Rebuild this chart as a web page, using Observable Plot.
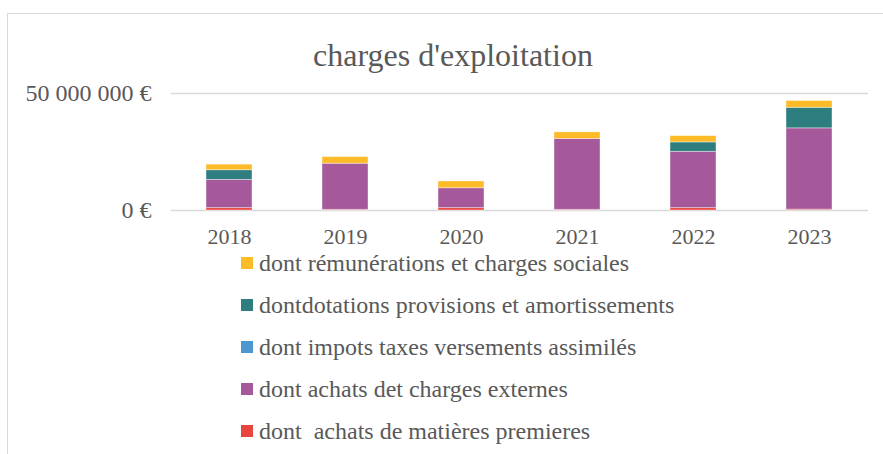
<!DOCTYPE html>
<html><head><meta charset="utf-8">
<script src="https://cdn.jsdelivr.net/npm/d3@7"></script>
<script src="https://cdn.jsdelivr.net/npm/@observablehq/plot@0.6"></script>
<style>
body{margin:0;background:#fff;}
#wrap{position:relative;width:883px;height:454px;overflow:hidden;font-family:"Liberation Serif","Times New Roman",serif;color:#595959;}
#frame{position:absolute;left:7px;top:13px;width:1000px;height:1000px;border:1.5px solid #d9d9d9;box-sizing:border-box}
#title{position:absolute;left:0;width:906px;top:36px;text-align:center;font-size:32px;line-height:38px}
#chart{position:absolute;left:0;top:70px}
#legend{position:absolute;left:241px;top:242px}
.row{height:42px;display:flex;align-items:center;font-size:24px;white-space:pre}
.sw{width:12px;height:12px;margin-right:6px;flex:none}
</style></head>
<body><div id="wrap"><div id="frame"></div><div id="title">charges d'exploitation</div><div id="chart"></div><div id="legend"></div></div>
<script>
const years = ["2018","2019","2020","2021","2022","2023"];
const seriesNames = [
  "dont  achats de matières premieres",
  "dont achats det charges externes",
  "dont impots taxes versements assimilés",
  "dontdotations provisions et amortissements",
  "dont rémunérations et charges sociales"
];
// values in euros
const matieresPremieres = [1.0e6, 0.3e6, 1.0e6, 0.3e6, 1.0e6, 0.4e6];
const chargesExternes   = [12.1e6, 19.7e6, 8.5e6, 30.3e6, 24.1e6, 34.7e6];
const impotsTaxes       = [0, 0, 0, 0, 0, 0];
const dotations         = [4.1e6, 0, 0, 0, 4.0e6, 8.8e6];
const remunerations     = [2.4e6, 2.8e6, 2.9e6, 2.8e6, 2.7e6, 2.9e6];
const yTicks = [0, 50000000];
const colors = ["#E8453C", "#A5589A", "#4A98CF", "#2E7D7F", "#FCBB27"];

const seriesValues = [matieresPremieres, chargesExternes, impotsTaxes, dotations, remunerations];
const data = [];
seriesNames.forEach((s, i) => years.forEach((y, j) => data.push({year: y, series: s, value: seriesValues[i][j]})));

const loc = d3.formatLocale({decimal: ",", thousands: " ", grouping: [3], currency: ["", " €"]});
const fmt = d => loc.format(",")(d) + " €";

const chart = Plot.plot({
  width: 883, height: 185,
  marginTop: 23, marginBottom: 45, marginLeft: 171, marginRight: 15,
  style: {fontFamily: "Liberation Serif, Times New Roman, serif", color: "#595959", background: "transparent"},
  x: {domain: years, paddingInner: 0.6, paddingOuter: 0.3},
  y: {domain: [0, 50000000]},
  color: {domain: seriesNames, range: colors},
  marks: [
    Plot.ruleY(yTicks, {stroke: "#d9d9d9", strokeWidth: 1.5}),
    Plot.barY(data, Plot.stackY({x: "year", y: "value", z: "series", fill: "series", order: seriesNames,
      stroke: "white", strokeWidth: 0.8, strokeOpacity: 0.5})),
    Plot.axisY({ticks: yTicks, tickFormat: fmt, tickSize: 0, tickPadding: 20, fontSize: 24, label: null}),
    Plot.axisX({tickSize: 0, tickPadding: 18, fontSize: 22, label: null})
  ]
});
document.getElementById("chart").appendChild(chart);

const legend = document.getElementById("legend");
seriesNames.slice().reverse().forEach(s => {
  const row = document.createElement("div");
  row.className = "row";
  const sw = document.createElement("span");
  sw.className = "sw";
  sw.style.background = colors[seriesNames.indexOf(s)];
  row.appendChild(sw);
  row.appendChild(document.createTextNode(s));
  legend.appendChild(row);
});
</script></body></html>
